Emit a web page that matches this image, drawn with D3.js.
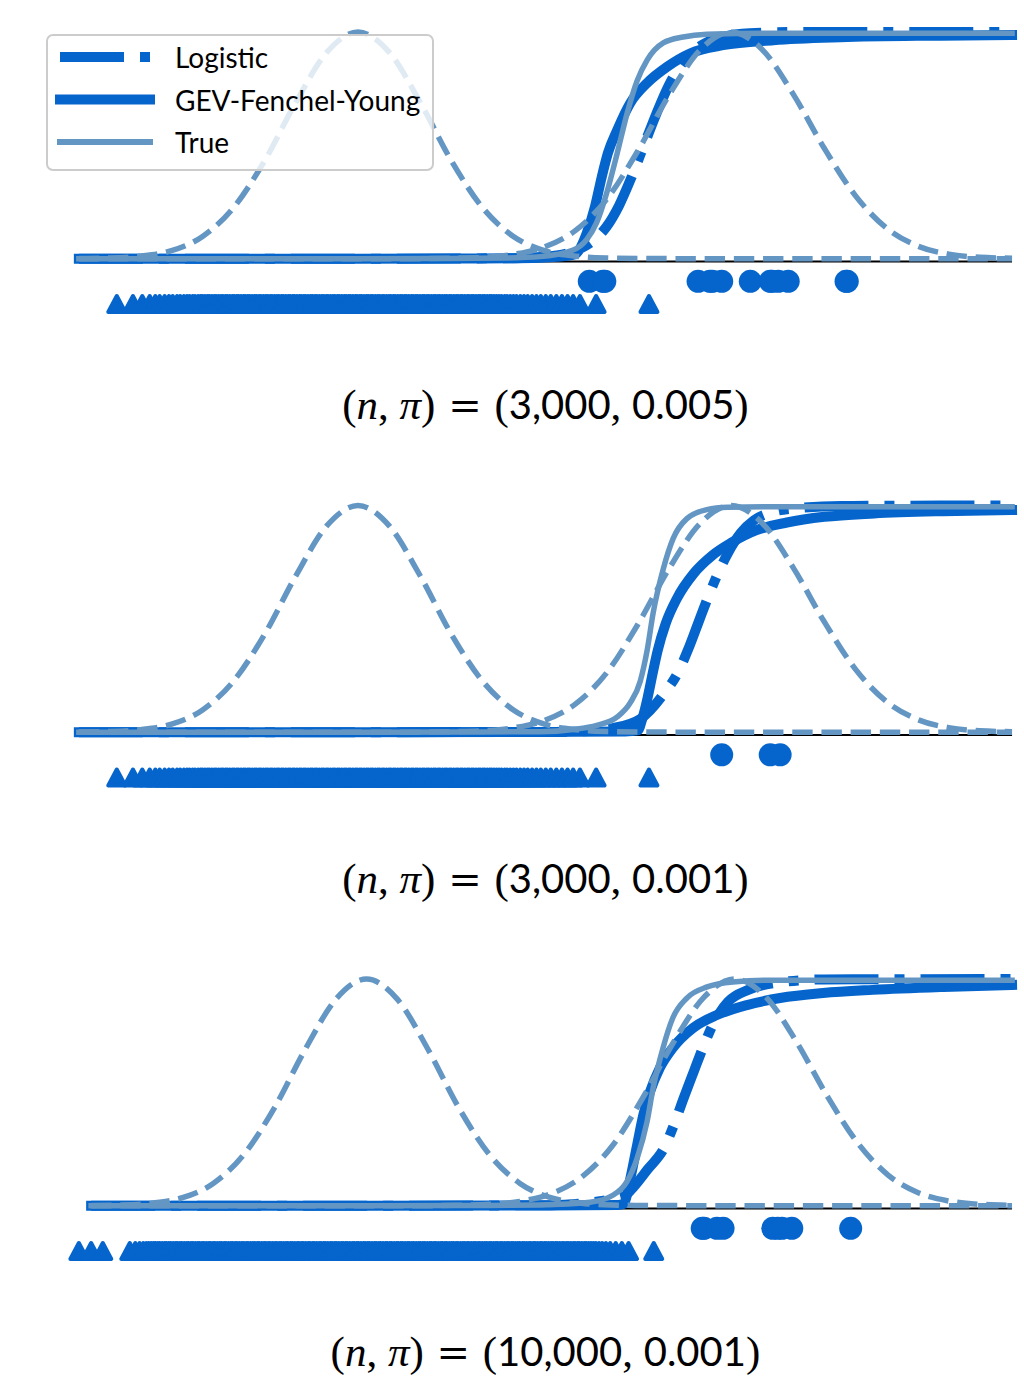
<!DOCTYPE html>
<html>
<head>
<meta charset="utf-8">
<script src="https://cdn.jsdelivr.net/npm/d3@7"></script>
<style>
  body { margin: 0; background: #fff; }
  svg { display: block; }
</style>
</head>
<body>
<div id="chart"></div>
<script>
// class densities (scaled to peak 1), [score, value]
var negDensity = [[-4.49,0.001],[-4.0,0.003],[-3.5,0.011],[-3.0,0.035],[-2.5,0.098],[-2.0,0.226],[-1.5,0.433],[-1.0,0.69],[-0.5,0.911],[0,1],[0.5,0.911],[1.0,0.69],[1.5,0.433],[2.0,0.226],[2.5,0.098],[3.0,0.035],[3.5,0.011],[4.0,0.003],[4.5,0.001],[5.5,0],[10.52,0]];
var posDensity = [[-4.49,0],[1.0,0],[1.5,0.002],[2.0,0.006],[2.5,0.019],[3.0,0.052],[3.5,0.125],[4.0,0.262],[4.5,0.475],[5.0,0.72],[5.5,0.92],[6.0,1],[6.5,0.923],[7.0,0.726],[7.5,0.487],[8.0,0.278],[8.5,0.135],[9.0,0.056],[9.5,0.02],[10.0,0.006],[10.52,0.002]];

// link curves per panel
var trueCurves = [
  [[-4.49,0],[0,0],[1.5,0.001],[2.4,0.003],[2.93,0.009],[3.46,0.038],[3.68,0.085],[3.84,0.16],[4.0,0.29],[4.17,0.466],[4.33,0.643],[4.49,0.785],[4.65,0.876],[4.91,0.952],[5.23,0.978],[5.61,0.99],[6.68,0.995],[10.52,0.995]],
  [[-4.49,0],[0,0],[2.0,0.001],[2.93,0.002],[3.46,0.012],[3.84,0.03],[4.17,0.067],[4.38,0.13],[4.54,0.225],[4.65,0.36],[4.75,0.53],[4.91,0.72],[5.07,0.855],[5.29,0.942],[5.61,0.982],[5.94,0.992],[6.68,0.995],[10.52,0.995]],
  [[-4.49,0],[0,0],[2.0,0.001],[2.83,0.003],[3.64,0.015],[4.02,0.047],[4.24,0.105],[4.41,0.21],[4.57,0.369],[4.67,0.519],[4.83,0.695],[4.99,0.828],[5.22,0.916],[5.55,0.965],[5.97,0.987],[6.63,0.995],[10.52,0.995]]
];
var gevCurves = [
  [[-4.49,0],[0,0],[2.0,0.001],[2.93,0.004],[3.2,0.008],[3.5,0.02],[3.6,0.06],[3.68,0.113],[3.81,0.228],[3.92,0.36],[4.02,0.466],[4.17,0.568],[4.38,0.687],[4.65,0.775],[4.97,0.846],[5.34,0.905],[5.87,0.942],[6.68,0.964],[7.76,0.977],[9.36,0.984],[10.52,0.987]],
  [[-4.49,0],[0,0],[3.0,0.001],[4.3,0.003],[4.5,0.008],[4.58,0.066],[4.66,0.154],[4.74,0.26],[4.82,0.36],[4.95,0.48],[5.13,0.59],[5.4,0.7],[5.7,0.78],[6.0,0.835],[6.4,0.89],[6.9,0.925],[7.5,0.95],[8.3,0.965],[9.4,0.975],[10.52,0.98]],
  [[-4.49,0],[0,0],[3.0,0.001],[4.1,0.003],[4.19,0.008],[4.3,0.122],[4.41,0.269],[4.51,0.4],[4.62,0.503],[4.78,0.608],[4.99,0.696],[5.32,0.784],[5.71,0.841],[6.2,0.885],[6.74,0.916],[7.44,0.938],[8.25,0.952],[9.4,0.965],[10.52,0.974]]
];
var logisticCurves = [
  [[-4.49,0],[0,0],[2.5,0.002],[3.0,0.008],[3.5,0.036],[3.8,0.083],[4.0,0.142],[4.2,0.235],[4.4,0.36],[4.6,0.5],[4.8,0.64],[5.0,0.765],[5.2,0.857],[5.4,0.917],[5.6,0.953],[5.9,0.98],[6.3,0.994],[7.0,1],[10.52,1]],
  [[-4.49,0],[0,0],[3.0,0.001],[3.6,0.004],[4.1,0.018],[4.55,0.06],[4.92,0.17],[5.15,0.265],[5.31,0.365],[5.47,0.48],[5.63,0.595],[5.79,0.7],[5.95,0.79],[6.16,0.88],[6.37,0.935],[6.65,0.97],[7.02,0.987],[7.77,0.998],[10.52,1]],
  [[-4.49,0],[0,0],[3.0,0.002],[3.8,0.02],[4.19,0.04],[4.36,0.085],[4.58,0.16],[4.85,0.255],[5.01,0.357],[5.17,0.476],[5.33,0.59],[5.5,0.709],[5.64,0.797],[5.89,0.899],[6.22,0.952],[6.64,0.982],[7.46,0.998],[10.52,1]]
];

// sample scores: positives (circles) and negatives (triangles)
var positives = [
  [3.72,3.94,3.97,5.47,5.66,5.7,5.85,6.31,6.63,6.66,6.76,6.92,7.85,7.87],
  [5.85,6.63,6.79],
  [5.47,5.5,5.71,5.81,6.62,6.7,6.77,6.93,7.89]
];
var negatives12 = [-3.88,-3.62,-3.47,-3.35,-3.26,-3.19,-3.11,-3.04,-2.98,-2.91,-2.86,-2.8,-2.75,-2.71,-2.66,-2.62,-2.57,-2.53,-2.5,-2.46,-2.42,-2.39,-2.35,-2.31,-2.28,-2.24,-2.2,-2.17,-2.13,-2.1,-2.06,-2.02,-1.99,-1.95,-1.92,-1.88,-1.84,-1.81,-1.77,-1.74,-1.7,-1.66,-1.63,-1.59,-1.56,-1.52,-1.48,-1.45,-1.41,-1.38,-1.34,-1.3,-1.27,-1.23,-1.2,-1.16,-1.12,-1.09,-1.05,-1.02,-0.98,-0.94,-0.91,-0.87,-0.84,-0.8,-0.76,-0.73,-0.69,-0.66,-0.62,-0.58,-0.55,-0.51,-0.48,-0.44,-0.4,-0.37,-0.33,-0.3,-0.26,-0.22,-0.19,-0.15,-0.12,-0.08,-0.04,-0.01,0.03,0.06,0.1,0.14,0.17,0.21,0.24,0.28,0.32,0.35,0.39,0.42,0.46,0.5,0.53,0.57,0.6,0.64,0.68,0.71,0.75,0.78,0.82,0.86,0.89,0.93,0.96,1.0,1.04,1.07,1.11,1.14,1.18,1.22,1.25,1.29,1.32,1.36,1.4,1.43,1.47,1.5,1.54,1.58,1.61,1.65,1.68,1.72,1.76,1.79,1.83,1.86,1.9,1.94,1.97,2.01,2.04,2.08,2.12,2.15,2.19,2.23,2.27,2.31,2.36,2.4,2.45,2.5,2.55,2.61,2.67,2.73,2.8,2.87,2.94,3.02,3.1,3.19,3.28,3.37,3.46,3.57,3.83,4.68];
var negatives3 = [-4.69,-4.49,-4.3,-3.86,-3.77,-3.7,-3.64,-3.59,-3.55,-3.51,-3.47,-3.44,-3.4,-3.37,-3.33,-3.29,-3.26,-3.22,-3.19,-3.15,-3.11,-3.08,-3.04,-3.01,-2.97,-2.93,-2.9,-2.86,-2.83,-2.79,-2.75,-2.72,-2.68,-2.65,-2.61,-2.57,-2.54,-2.5,-2.47,-2.43,-2.39,-2.36,-2.32,-2.29,-2.25,-2.21,-2.18,-2.14,-2.11,-2.07,-2.03,-2.0,-1.96,-1.93,-1.89,-1.85,-1.82,-1.78,-1.75,-1.71,-1.67,-1.64,-1.6,-1.57,-1.53,-1.49,-1.46,-1.42,-1.39,-1.35,-1.31,-1.28,-1.24,-1.21,-1.17,-1.13,-1.1,-1.06,-1.03,-0.99,-0.95,-0.92,-0.88,-0.85,-0.81,-0.77,-0.74,-0.7,-0.67,-0.63,-0.59,-0.56,-0.52,-0.49,-0.45,-0.41,-0.38,-0.34,-0.31,-0.27,-0.23,-0.2,-0.16,-0.13,-0.09,-0.05,-0.02,0.02,0.05,0.09,0.13,0.16,0.2,0.23,0.27,0.31,0.34,0.38,0.41,0.45,0.49,0.52,0.56,0.59,0.63,0.67,0.7,0.74,0.77,0.81,0.85,0.88,0.92,0.95,0.99,1.03,1.06,1.1,1.13,1.17,1.21,1.24,1.28,1.31,1.35,1.39,1.42,1.46,1.49,1.53,1.57,1.6,1.64,1.67,1.71,1.75,1.78,1.82,1.85,1.89,1.93,1.96,2.0,2.03,2.07,2.11,2.14,2.18,2.21,2.25,2.29,2.32,2.36,2.39,2.43,2.47,2.5,2.54,2.57,2.61,2.65,2.68,2.72,2.75,2.79,2.83,2.86,2.9,2.93,2.97,3.01,3.04,3.08,3.11,3.15,3.19,3.22,3.26,3.29,3.33,3.37,3.4,3.44,3.47,3.51,3.55,3.58,3.62,3.66,3.7,3.74,3.79,3.84,3.9,3.97,4.06,4.16,4.27,4.68];
var panelNegatives = [negatives12, negatives12, negatives3];

var captionN = ["3,000", "3,000", "10,000"];
var captionPi = ["0.005", "0.001", "0.001"];
var legendLabels = ["Logistic", "GEV-Fenchel-Young", "True"];

// levels on the value axis
var zeroLevel = -0.012, posLevel = -0.1, negLevel = -0.2;

var width = 1024, height = 1376;
var darkBlue = "#0565cc", lightBlue = "#6496c4";
var panelTops = [0, 473.5, 947];
var xRange = [32.2, 1058.7];
var yDomain = [-0.26, 1.06];
var sansFont = "Lato, 'DejaVu Sans', sans-serif";
var serifFont = "'Liberation Serif', 'DejaVu Serif', serif";
var wideSerif = "'DejaVu Serif', serif";

var svg = d3.select("#chart").append("svg")
	.attr("width", width)
	.attr("height", height);

function first(d) { return d[0]; }

panelTops.forEach(function(top, i) {
	var allX = [].concat(trueCurves[i].map(first), gevCurves[i].map(first),
		logisticCurves[i].map(first), negDensity.map(first), posDensity.map(first),
		positives[i], panelNegatives[i]);
	var ext = d3.extent(allX);
	var pad = (ext[1] - ext[0]) * 0.05;
	var x = d3.scaleLinear().domain([ext[0] - pad, ext[1] + pad]).range(xRange);
	var y = d3.scaleLinear().domain(yDomain).range([top + 317.6, top + 18.4]);

	var line = d3.line()
		.x(function(d) { return x(d[0]); })
		.y(function(d) { return y(d[1]); })
		.curve(d3.curveMonotoneX);

	var g = svg.append("g").attr("class", "panel");
	var gridExt = d3.extent(trueCurves[i], first);

	// zero line
	g.append("line")
		.attr("x1", x(gridExt[0])).attr("x2", x(gridExt[1]))
		.attr("y1", y(zeroLevel)).attr("y2", y(zeroLevel))
		.style("stroke", "black").style("stroke-width", 2);

	g.append("path").datum(logisticCurves[i])
		.attr("d", line)
		.style("fill", "none").style("stroke", darkBlue).style("stroke-width", 10)
		.style("stroke-dasharray", "64 16 10 16").style("stroke-linejoin", "round");

	g.append("path").datum(gevCurves[i])
		.attr("d", line)
		.style("fill", "none").style("stroke", darkBlue).style("stroke-width", 10)
		.style("stroke-linecap", "square").style("stroke-linejoin", "round");

	g.append("path").datum(trueCurves[i])
		.attr("d", line)
		.style("fill", "none").style("stroke", lightBlue).style("stroke-width", 5.5)
		.style("stroke-linecap", "square").style("stroke-linejoin", "round");

	[negDensity, posDensity].forEach(function(dens) {
		g.append("path").datum(dens)
			.attr("d", line)
			.style("fill", "none").style("stroke", lightBlue).style("stroke-width", 5.5)
			.style("stroke-dasharray", "20.4 8.8");
	});

	g.selectAll(".pos")
		.data(positives[i])
		.enter()
		.append("circle")
			.attr("class", "pos")
			.attr("cx", function(d) { return x(d); })
			.attr("cy", y(posLevel))
			.attr("r", 11.5)
			.style("fill", darkBlue);

	// triangles with an edge in the same colour, like the markers in the picture
	g.selectAll(".neg")
		.data(panelNegatives[i])
		.enter()
		.append("path")
			.attr("class", "neg")
			.attr("d", "M0,-8L8.5,8L-8.5,8Z")
			.attr("transform", function(d) { return "translate(" + x(d) + "," + y(negLevel) + ")"; })
			.style("fill", darkBlue)
			.style("stroke", darkBlue)
			.style("stroke-width", 4)
			.style("stroke-linejoin", "round");

	// caption under the panel
	var cap = g.append("text")
		.attr("x", (xRange[0] + xRange[1]) / 2)
		.attr("y", top + 419)
		.attr("text-anchor", "middle")
		.style("fill", "black");
	var parts = [
		["(", serifFont, "normal", 43], ["n", serifFont, "italic", 43], [", ", serifFont, "normal", 43],
		["\u03c0", serifFont, "italic", 43], [")", serifFont, "normal", 43],
		[" = ", wideSerif, "normal", 40],
		["(", serifFont, "normal", 43], [captionN[i], sansFont, "normal", 40], [", ", serifFont, "normal", 43],
		[captionPi[i], sansFont, "normal", 40], [")", serifFont, "normal", 43]
	];
	cap.selectAll("tspan")
		.data(parts)
		.enter()
		.append("tspan")
			.text(function(d) { return d[0]; })
			.style("font-family", function(d) { return d[1]; })
			.style("font-style", function(d) { return d[2]; })
			.style("font-size", function(d) { return d[3] + "px"; })
			.attr("xml:space", "preserve");
});

// legend, top panel only
var legend = svg.append("g").attr("class", "legend");
legend.append("rect")
	.attr("x", 47).attr("y", 35).attr("width", 386).attr("height", 135)
	.attr("rx", 6)
	.style("fill", "white").style("fill-opacity", 0.8)
	.style("stroke", "#cccccc").style("stroke-width", 2);

var handleStyles = [
	{width: 10, dash: "64 16 10 16", cap: "butt", color: darkBlue},
	{width: 10, dash: null, cap: "square", color: darkBlue},
	{width: 6, dash: null, cap: "square", color: lightBlue}
];
var entries = legend.selectAll(".entry")
	.data(legendLabels)
	.enter()
	.append("g")
		.attr("class", "entry")
		.attr("transform", function(d, k) { return "translate(0," + (57 + k * 42.5) + ")"; });

entries.append("line")
	.attr("x1", 60).attr("x2", 150)
	.style("stroke", function(d, k) { return handleStyles[k].color; })
	.style("stroke-width", function(d, k) { return handleStyles[k].width; })
	.style("stroke-dasharray", function(d, k) { return handleStyles[k].dash; })
	.style("stroke-linecap", function(d, k) { return handleStyles[k].cap; });

entries.append("text")
	.attr("x", 175)
	.attr("y", 11)
	.style("font-family", sansFont)
	.style("font-size", "28px")
	.style("fill", "black")
	.text(function(d) { return d; });
</script>
</body>
</html>
